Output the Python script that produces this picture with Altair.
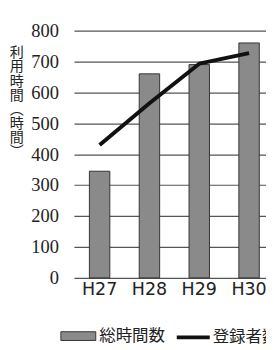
import altair as alt
import pandas as pd

years = ["H27", "H28", "H29", "H30"]
total_hours = [345, 660, 690, 760]
registered = [430, 565, 693, 727]
y_ticks = [0, 100, 200, 300, 400, 500, 600, 700, 800]
bar_label = "総時間数"
line_label = "登録者数"
y_title = ["利", "用", "時", "間", "︵", "時", "間", "︶"]

df = pd.DataFrame({
    "year": years,
    "hours": total_hours,
    "users": registered,
    "bar": [bar_label] * len(years),
    "line": [line_label] * len(years),
})

x_axis = alt.Axis(
    title=None, labelAngle=0, labelFont="DejaVu Sans", labelFontSize=18,
    labelColor="#222", labelPadding=3, ticks=False, domain=False, grid=False,
)
x_scale = alt.Scale(range=[0, 207], paddingInner=0.59, paddingOuter=0.31)

y_axis = alt.Axis(
    values=y_ticks, title=y_title, titleAngle=0, titleX=-59.5, titleY=16,
    titleAlign="center", titleBaseline="top", titleFont="Noto Sans CJK JP",
    titleFontSize=14.5, titleLineHeight=14.6, titleFontWeight="normal",
    titleColor="#222", labelFont="'Liberation Serif', 'Times New Roman', serif",
    labelFontSize=19, labelColor="#222", labelPadding=16, labelOverlap=False,
    ticks=False, domain=False, gridColor="#555", gridWidth=1.2,
)
y_scale = alt.Scale(domain=[0, 800], nice=False)

bars = alt.Chart(df).mark_bar(stroke="#333", strokeWidth=1).encode(
    x=alt.X("year:N", sort=years, scale=x_scale, axis=x_axis),
    y=alt.Y("hours:Q", scale=y_scale, axis=y_axis),
    fill=alt.Fill(
        "bar:N",
        scale=alt.Scale(domain=[bar_label], range=["#8a8a8a"]),
        legend=alt.Legend(
            title=None, orient="none", legendX=-14, legendY=296.5,
            direction="horizontal", symbolType="M-1,-0.25H1V0.25H-1Z",
            symbolSize=1296, symbolStrokeColor="#333", symbolStrokeWidth=1,
            labelFont="Noto Sans CJK JP", labelFontSize=17, labelColor="#222",
            labelOffset=3, padding=0,
        ),
    ),
)

line = alt.Chart(df).mark_line(strokeWidth=4, strokeJoin="round").encode(
    x=alt.X("year:N", sort=years, scale=x_scale, axis=x_axis),
    y=alt.Y("users:Q", scale=y_scale, axis=y_axis),
    stroke=alt.Stroke(
        "line:N",
        scale=alt.Scale(domain=[line_label], range=["#111"]),
        legend=alt.Legend(
            title=None, orient="none", legendX=104, legendY=297.3,
            direction="horizontal", symbolType="stroke", symbolSize=1156,
            symbolStrokeWidth=4, labelFont="Noto Sans CJK JP", labelFontSize=17,
            labelColor="#222", labelOffset=1, padding=0,
        ),
    ),
)

chart = (
    alt.layer(bars, line)
    .properties(
        width=198, height=255,
        autosize=alt.AutoSizeParams(type="none"),
        padding={"left": 68, "top": 18, "right": 0, "bottom": 67},
        background="white",
    )
    .configure_view(stroke=None)
)

chart.save("out.html", embed_options={"renderer": "svg", "actions": False})
